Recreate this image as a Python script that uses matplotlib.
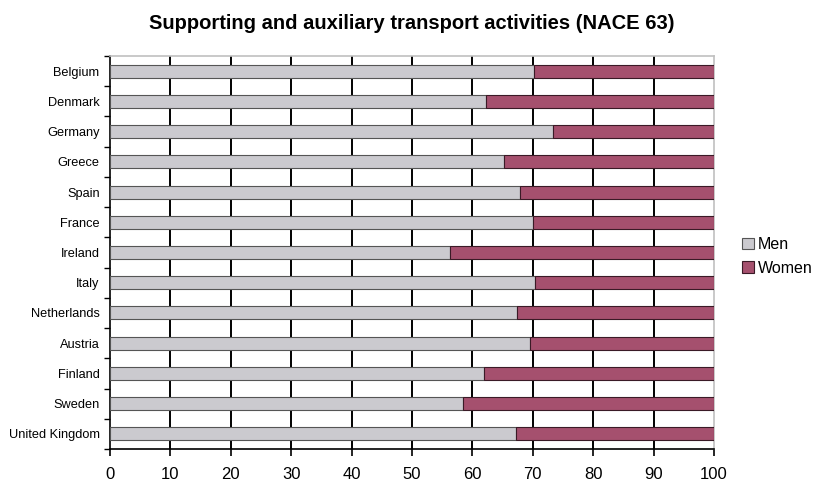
import numpy as np
import matplotlib.pyplot as plt
from matplotlib.ticker import MultipleLocator, FixedLocator

plt.rcParams['font.family'] = ['Liberation Sans', 'DejaVu Sans']

countries = ['Belgium', 'Denmark', 'Germany', 'Greece', 'Spain', 'France', 'Ireland',
             'Italy', 'Netherlands', 'Austria', 'Finland', 'Sweden', 'United Kingdom']
men = [70.2, 62.2, 73.4, 65.3, 67.8, 70.0, 56.3, 70.3, 67.4, 69.5, 62.0, 58.5, 67.3]
women = [100 - m for m in men]

fig = plt.figure(figsize=(8.23, 4.84), dpi=100)
ax = fig.add_axes([110 / 823, 1 - 449 / 484, 604 / 823, 393 / 484])

y = np.arange(len(countries))
bar_h = 0.43
ax.barh(y, men, height=bar_h, color='#cbcacf', edgecolor='#555555', linewidth=0.8,
        label='Men', zorder=3)
ax.barh(y, women, left=men, height=bar_h, color='#a5506e', edgecolor='#3a1a26',
        linewidth=0.8, label='Women', zorder=3)

ax.set_xlim(0, 100)
ax.set_ylim(len(countries) - 0.5, -0.5)
ax.xaxis.set_major_locator(MultipleLocator(10))
# vertical gridlines, the 100 edge is left to the grey frame
for gx in range(10, 100, 10):
    ax.axvline(gx, color='black', linewidth=1.4, zorder=1)

ax.set_yticks(y)
ax.set_yticklabels(countries, fontsize=9.2)
ax.yaxis.set_minor_locator(FixedLocator(np.arange(-0.5, len(countries), 1)))
ax.tick_params(axis='y', which='major', length=0, pad=7.5)
ax.tick_params(axis='y', which='minor', length=4, width=1, color='black')
ax.tick_params(axis='x', length=5, width=1.2, labelsize=12, pad=8)

for side in ['top', 'right']:
    ax.spines[side].set_color('#c0c0c0')
    ax.spines[side].set_linewidth(1.2)
ax.spines['left'].set_linewidth(1.2)
ax.spines['bottom'].set_linewidth(1.2)

fig.suptitle('Supporting and auxiliary transport activities (NACE 63)',
             x=0.5, y=0.972, fontsize=14.5, fontweight='bold')

leg = ax.legend(loc='center left', bbox_to_anchor=(1.035, 0.49), frameon=False,
                fontsize=11.5, handlelength=0.75, handleheight=0.75, handletextpad=0.25,
                labelspacing=0.55, borderaxespad=0)

fig.savefig('out.png', dpi=100)
